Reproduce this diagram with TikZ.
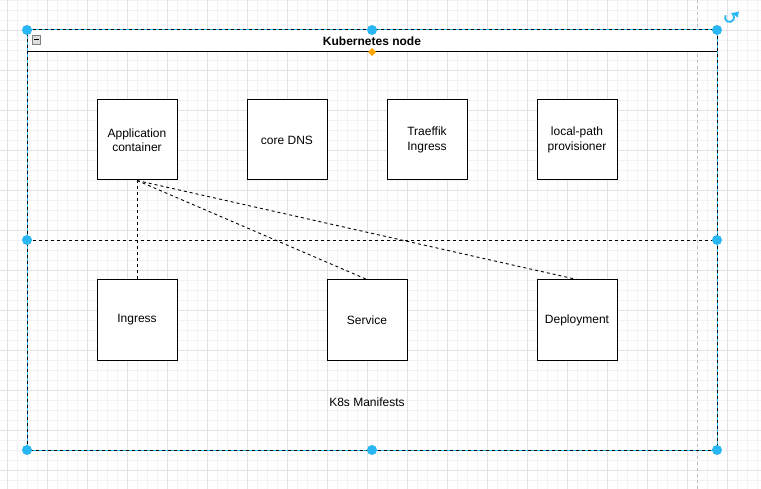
\documentclass[tikz,border=0pt]{standalone}
\usepackage{fontspec}
\setmainfont{Liberation Sans}
\usepackage{tikz}
\usetikzlibrary{positioning}

\definecolor{selblue}{HTML}{29B6F2}
\definecolor{gridmin}{HTML}{F2F2F2}
\definecolor{gridmaj}{HTML}{E2E2E2}
\definecolor{handleorange}{HTML}{FFA500}

\begin{document}
\begin{tikzpicture}[x=1pt,y=-1pt,
    box/.style={draw,fill=white,line width=1pt,minimum width=80pt,minimum height=80pt,
      inner sep=0pt,align=center,font=\fontsize{12}{14.4}\selectfont},
    txt/.style={inner sep=0pt,font=\fontsize{12}{14.4}\selectfont},
    link/.style={dashed,line width=0.9pt}]
    \useasboundingbox (0,0) rectangle (761,489);
    %grid
    \foreach \x in {7,17,...,757} \draw[gridmin,line width=0.8pt] (\x,0) -- (\x,489);
    \foreach \y in {0,10,...,480} \draw[gridmin,line width=0.8pt] (0,\y) -- (761,\y);
    \foreach \x in {7,47,...,727} \draw[gridmaj,line width=0.8pt] (\x,0) -- (\x,489);
    \foreach \y in {30,70,...,470} \draw[gridmaj,line width=0.8pt] (0,\y) -- (761,\y);
    \draw[gray!50,dashed,line width=0.8pt] (697,0) -- (697,489);
    %container
    \fill[white] (27,30) rectangle (717,52);
    \draw[line width=1pt] (27,30) rectangle (717,450);
    \draw[line width=1pt] (27,52) -- (717,52);
    \node[txt,font=\fontsize{12}{14.4}\selectfont\bfseries] (title) at (372,41.5) {Kubernetes node};
    \draw[gray,fill=gray!25,line width=0.6pt] (32,35.5) rectangle (40.5,44);
    \draw[line width=0.9pt] (33.8,39.75) -- (38.7,39.75);
    \draw[link] (27,240) -- (717,240);
    %states
    \node[box] (app) at (137,140) {Application\\container};
    \node[box] (dns) at (287,140) {core DNS};
    \node[box] (traefik) at (427,140) {Traeffik\\Ingress};
    \node[box] (lpp) at (577,140) {local-path\\provisioner};
    \node[box] (ing) at (137,320) {Ingress};
    \node[box] (svc) at (367,320) {Service};
    \node[box] (dep) at (577,320) {Deployment};
    \node[txt] (man) at (367,402.5) {K8s Manifests};
    %edges
    \draw[link] (app.south) -- (ing.north);
    \draw[link] (app.south) -- (svc.north);
    \draw[link] (app.south) -- (dep.north);
    %selection
    \draw[selblue,dashed,line width=1pt] (27,30) rectangle (717,450);
    \foreach \x/\y in {27/30,372/30,717/30,27/240,717/240,27/450,372/450,717/450}
      \fill[selblue] (\x,\y) circle (5pt);
    \fill[handleorange] (372,48) -- (376,52) -- (372,56) -- (368,52) -- cycle;
    \draw[selblue,line width=1.8pt,-latex] (725.6,15.25) arc (-150:-440:4.5);
\end{tikzpicture}
\end{document}
